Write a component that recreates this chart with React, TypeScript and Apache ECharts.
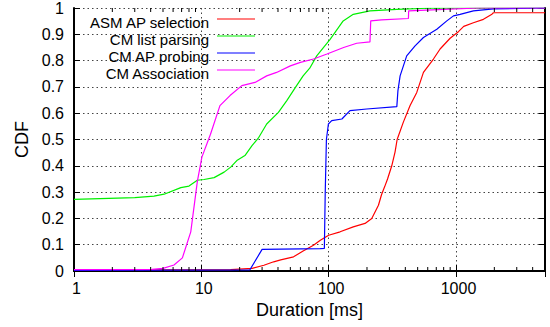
import React, { useEffect, useRef } from "react";
import * as echarts from "echarts";

const seriesNames = ["ASM AP selection", "CM list parsing", "CM AP probing", "CM Association"];
const seriesColors = ["#ff0000", "#00f000", "#0000ff", "#ff00ff"];

const asmApSelection: [number, number][] = [
  [1, 0.003], [17, 0.005], [25, 0.01], [31, 0.022], [37, 0.035], [42, 0.042], [53, 0.054],
  [63, 0.076], [76, 0.098], [86, 0.117], [100, 0.136], [123, 0.149], [156, 0.168], [193, 0.181],
  [218, 0.2], [246, 0.25], [260, 0.29], [275, 0.32], [290, 0.35], [313, 0.4], [332, 0.452],
  [345, 0.5], [386, 0.566], [436, 0.629], [492, 0.679], [555, 0.755], [665, 0.806], [750, 0.844],
  [899, 0.885], [1045, 0.91], [1150, 0.93], [1370, 0.944], [1642, 0.957], [1900, 0.975],
  [1967, 0.982], [5000, 0.982],
];

const cmListParsing: [number, number][] = [
  [1, 0.272], [3, 0.279], [4.25, 0.285], [5.1, 0.292], [6.9, 0.317], [8, 0.323], [9.3, 0.345],
  [10.5, 0.348], [12.6, 0.355], [15.1, 0.376], [17, 0.395], [19, 0.42], [22, 0.439], [25, 0.477],
  [28, 0.505], [32.6, 0.559], [40.3, 0.603], [46.9, 0.648], [56, 0.705], [63, 0.742], [71, 0.771],
  [80.6, 0.818], [102.6, 0.881], [130, 0.951], [156, 0.976], [211, 0.989], [343, 0.995],
  [600, 0.999], [5000, 1],
];

const cmApProbing: [number, number][] = [
  [1, 0.002], [24, 0.004], [30, 0.082], [86, 0.085], [92.5, 0.086], [94, 0.3], [96, 0.5],
  [99.5, 0.559], [105.7, 0.572], [127, 0.578], [147, 0.61], [199, 0.616], [343, 0.625],
  [350, 0.686], [364, 0.742], [410, 0.818], [477, 0.856], [555, 0.888], [707, 0.919],
  [847, 0.951], [955, 0.97], [1077, 0.976], [1370, 0.989], [1967, 0.997], [5000, 1],
];

const cmAssociation: [number, number][] = [
  [1, 0.005], [4.1, 0.006], [5, 0.01], [6.1, 0.023], [7.1, 0.05], [8.26, 0.149], [9.3, 0.34],
  [10.1, 0.433], [11.8, 0.52], [14, 0.629], [16.8, 0.667], [20.8, 0.705], [26.4, 0.717],
  [32.6, 0.742], [39, 0.755], [50, 0.78], [60, 0.793], [76, 0.806], [97, 0.825], [131, 0.85],
  [166, 0.866], [211, 0.871], [214, 0.951], [260, 0.955], [423, 0.96], [425, 0.989],
  [800, 0.995], [1500, 1], [5000, 1],
];

const allSeries = [asmApSelection, cmListParsing, cmApProbing, cmAssociation];

const minorTickValues = [
  2, 3, 4, 5, 6, 7, 8, 9, 20, 30, 40, 50, 60, 70, 80, 90,
  200, 300, 400, 500, 600, 700, 800, 900, 2000, 3000, 4000,
];

const FONT = "'Liberation Sans', Arial, Helvetica, sans-serif";

export default function App() {
  const ref = useRef<HTMLDivElement>(null);
  useEffect(() => {
    if (!ref.current) return;
    const chart = echarts.init(ref.current, null, { renderer: "svg" });
    const gridLine = { show: true, lineStyle: { color: "#444", type: [1.5, 3] as any, width: 1 } };
    const axisLineStyle = { show: true, lineStyle: { color: "#000", width: 2 } };

    const lineSeries = allSeries.map((d, i) => ({
      type: "line",
      name: seriesNames[i],
      data: d,
      showSymbol: false,
      symbol: "none",
      lineStyle: { color: seriesColors[i], width: 1.2 },
      itemStyle: { color: seriesColors[i] },
      z: 3 + i,
      xAxisIndex: 0,
      yAxisIndex: 0,
    }));

    const minorSeries = {
      type: "custom",
      xAxisIndex: 0,
      yAxisIndex: 0,
      data: minorTickValues.map((v) => [v, 0]),
      z: 10,
      silent: true,
      renderItem: (params: any, api: any) => {
        const v = api.value(0);
        const p = api.coord([v, 0]);
        const q = api.coord([v, 1]);
        const st = { stroke: "#000", lineWidth: 1 };
        return {
          type: "group",
          children: [
            { type: "line", shape: { x1: p[0], y1: p[1], x2: p[0], y2: p[1] - 4 }, style: st },
            { type: "line", shape: { x1: q[0], y1: q[1], x2: q[0], y2: q[1] + 4 }, style: st },
          ],
        };
      },
    };

    const legendRows = [19, 36, 53, 70];
    const legendGraphics: any[] = [];
    seriesNames.forEach((name, i) => {
      const y = legendRows[i];
      legendGraphics.push({
        type: "text",
        style: {
          text: name,
          x: 209,
          y: y + 3,
          align: "right",
          verticalAlign: "middle",
          fontSize: 15,
          lineHeight: 15,
          fontFamily: FONT,
          fill: "#000",
        },
        z: 20,
      });
      legendGraphics.push({
        type: "line",
        shape: { x1: 217, y1: y, x2: 255, y2: y },
        style: { stroke: seriesColors[i], lineWidth: 1.2 },
        z: 20,
      });
    });

    chart.setOption({
      animation: false,
      grid: { left: 74, right: 5, top: 8, bottom: 56, containLabel: false },
      xAxis: [
        {
          type: "log",
          logBase: 10,
          min: 1,
          max: 5000,
          position: "bottom",
          name: "Duration [ms]",
          nameLocation: "middle",
          nameGap: 29,
          nameTextStyle: { fontSize: 18, fontFamily: FONT, color: "#000" },
          axisLine: axisLineStyle,
          axisTick: { show: true, inside: true, length: 6, lineStyle: { color: "#000", width: 1 } },
          axisLabel: {
            show: true,
            fontSize: 16,
            fontFamily: FONT,
            color: "#000",
            margin: 9,
            padding: [0, 0, 0, 5],
            showMaxLabel: false,
            formatter: (v: number) => String(Math.round(v)),
          },
          splitLine: gridLine,
          minorTick: { show: false },
        },
        {
          type: "log",
          logBase: 10,
          min: 1,
          max: 5000,
          position: "top",
          axisLine: axisLineStyle,
          axisTick: { show: true, inside: true, length: 6, lineStyle: { color: "#000", width: 1 } },
          axisLabel: { show: false },
          splitLine: { show: false },
        },
      ],
      yAxis: [
        {
          type: "value",
          min: 0,
          max: 1,
          interval: 0.1,
          position: "left",
          name: "CDF",
          nameLocation: "middle",
          nameGap: 38,
          nameRotate: 90,
          nameTextStyle: { fontSize: 18, fontFamily: FONT, color: "#000" },
          axisLine: axisLineStyle,
          axisTick: { show: true, inside: true, length: 6, lineStyle: { color: "#000", width: 1 } },
          axisLabel: {
            fontSize: 16,
            fontFamily: FONT,
            color: "#000",
            margin: 10,
            padding: [7, 0, 0, 0],
            formatter: (v: number) => (v === 0 ? "0" : v >= 0.999 ? "1" : v.toFixed(1)),
          },
          splitLine: gridLine,
        },
        {
          type: "value",
          min: 0,
          max: 1,
          interval: 0.1,
          position: "right",
          axisLine: axisLineStyle,
          axisTick: { show: true, inside: true, length: 6, lineStyle: { color: "#000", width: 1 } },
          axisLabel: { show: false },
          splitLine: { show: false },
        },
      ],
      series: [...lineSeries, minorSeries],
      graphic: legendGraphics,
    });
    return () => chart.dispose();
  }, []);
  return (
    <div
      ref={ref}
      style={{ position: "fixed", left: 0, top: 0, width: 550, height: 327, background: "#fff" }}
    />
  );
}
